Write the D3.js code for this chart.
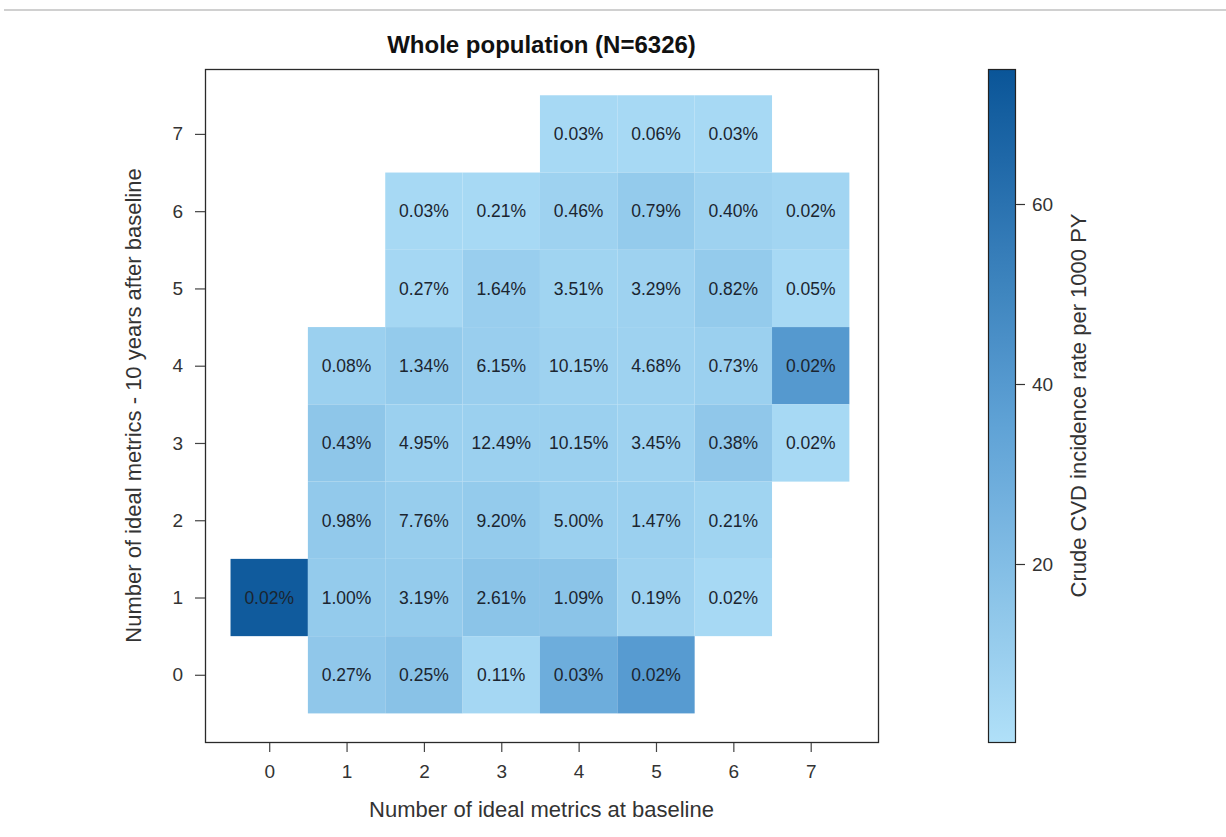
<!DOCTYPE html>
<html>
<head>
<meta charset="utf-8">
<script src="https://cdn.jsdelivr.net/npm/d3@7/dist/d3.min.js"></script>
<style>
  html, body { margin: 0; padding: 0; background: #fff; }
  svg { display: block; font-family: "Liberation Sans", Arial, sans-serif; }
</style>
</head>
<body>
<svg id="chart" width="1226" height="837"></svg>
<script>
// Number of ideal metrics at baseline (column) and 10 years later (row)
const baseline = [4, 5, 6,
                  2, 3, 4, 5, 6, 7,
                  2, 3, 4, 5, 6, 7,
                  1, 2, 3, 4, 5, 6, 7,
                  1, 2, 3, 4, 5, 6, 7,
                  1, 2, 3, 4, 5, 6,
                  0, 1, 2, 3, 4, 5, 6,
                  1, 2, 3, 4, 5];
const followUp = [7, 7, 7,
                  6, 6, 6, 6, 6, 6,
                  5, 5, 5, 5, 5, 5,
                  4, 4, 4, 4, 4, 4, 4,
                  3, 3, 3, 3, 3, 3, 3,
                  2, 2, 2, 2, 2, 2,
                  1, 1, 1, 1, 1, 1, 1,
                  0, 0, 0, 0, 0];
// Share of the population in each cell (%)
const share = [0.03, 0.06, 0.03,
               0.03, 0.21, 0.46, 0.79, 0.40, 0.02,
               0.27, 1.64, 3.51, 3.29, 0.82, 0.05,
               0.08, 1.34, 6.15, 10.15, 4.68, 0.73, 0.02,
               0.43, 4.95, 12.49, 10.15, 3.45, 0.38, 0.02,
               0.98, 7.76, 9.20, 5.00, 1.47, 0.21,
               0.02, 1.00, 3.19, 2.61, 1.09, 0.19, 0.02,
               0.27, 0.25, 0.11, 0.03, 0.02];
// Crude CVD incidence rate per 1000 PY in each cell
const rate = [4, 4, 4,
              4, 4, 8, 12, 8, 6,
              5, 10, 7, 8, 12, 4,
              9, 12, 10, 8, 8, 9, 40,
              15, 9, 9, 9, 8, 14, 4,
              13, 11, 12, 9, 9, 7,
              72, 12, 12, 16, 16, 8, 4,
              14, 17, 5, 29, 39];

const tickValues = [0, 1, 2, 3, 4, 5, 6, 7];
const colorTicks = [20, 40, 60];

const title = "Whole population (N=6326)";
const xTitle = "Number of ideal metrics at baseline";
const yTitle = "Number of ideal metrics - 10 years after baseline";
const colorTitle = "Crude CVD incidence rate per 1000 PY";

const cells = baseline.map((b, i) => ({ b, f: followUp[i], share: share[i], rate: rate[i] }));

const FONT = "'Liberation Sans', Arial, sans-serif";
const svg = d3.select("#chart");

// thin separator rule across the top of the page
svg.append("rect").attr("x", 4).attr("y", 9).attr("width", 1222).attr("height", 2)
  .attr("fill", "#d0d0d0");

const plot = { left: 205, right: 878, top: 69, bottom: 742 };

const x = d3.scaleLinear().domain([-0.83, 7.87]).range([plot.left, plot.right]);
const y = d3.scaleLinear().domain([-0.87, 7.84]).range([plot.bottom, plot.top]);

const color = d3.scaleLinear()
  .domain([0, 37, 75])
  .range(["#b0e0f8", "#5b9fd4", "#0a5598"])
  .interpolate(d3.interpolateRgb)
  .clamp(true);

// heat-map cells
svg.append("g").selectAll("rect").data(cells).join("rect")
  .attr("x", d => x(d.b - 0.5))
  .attr("y", d => y(d.f + 0.5))
  .attr("width", d => x(d.b + 0.5) - x(d.b - 0.5))
  .attr("height", d => y(d.f - 0.5) - y(d.f + 0.5))
  .attr("fill", d => color(d.rate));

// cell labels
svg.append("g").selectAll("text").data(cells).join("text")
  .attr("x", d => x(d.b))
  .attr("y", d => y(d.f))
  .attr("dy", "0.36em")
  .attr("text-anchor", "middle")
  .style("font-family", FONT)
  .style("font-size", "17.5px")
  .attr("fill", "#1b2530")
  .text(d => d.share.toFixed(2) + "%");

// frame
svg.append("rect")
  .attr("x", plot.left + 0.5).attr("y", plot.top + 0.5)
  .attr("width", plot.right - plot.left).attr("height", plot.bottom - plot.top)
  .attr("fill", "none").attr("stroke", "#2a2a2a").attr("stroke-width", 1.3);

// axes
const xAxis = svg.append("g")
  .attr("transform", `translate(0,${plot.bottom + 1})`)
  .call(d3.axisBottom(x).tickValues(tickValues).tickSize(9).tickPadding(13).tickFormat(d3.format("d")));
const yAxis = svg.append("g")
  .attr("transform", `translate(${plot.left},0)`)
  .call(d3.axisLeft(y).tickValues(tickValues).tickSize(10).tickPadding(12).tickFormat(d3.format("d")));

[xAxis, yAxis].forEach(g => {
  g.select(".domain").remove();
  g.selectAll(".tick line").attr("stroke", "#444").attr("stroke-width", 1.2);
  g.selectAll(".tick text")
    .style("font-family", FONT)
    .style("font-size", "19px").attr("fill", "#333");
});

// titles
svg.append("text")
  .attr("x", (plot.left + plot.right) / 2).attr("y", 53)
  .attr("text-anchor", "middle")
  .style("font-family", FONT).style("font-size", "24px").style("font-weight", "bold")
  .attr("fill", "#111").text(title);

svg.append("text")
  .attr("x", (plot.left + plot.right) / 2).attr("y", 817)
  .attr("text-anchor", "middle")
  .style("font-family", FONT).style("font-size", "22px").attr("fill", "#333")
  .text(xTitle);

svg.append("text")
  .attr("transform", `translate(141,${(plot.top + plot.bottom) / 2}) rotate(-90)`)
  .attr("text-anchor", "middle")
  .style("font-family", FONT).style("font-size", "22px").attr("fill", "#333")
  .text(yTitle);

// colour legend
const bar = { x: 988, width: 27, top: 69, bottom: 742 };
const cScale = d3.scaleLinear().domain([0, 75]).range([744, 69]);

const defs = svg.append("defs");
const grad = defs.append("linearGradient").attr("id", "rampGrad")
  .attr("x1", 0).attr("y1", 1).attr("x2", 0).attr("y2", 0);
d3.range(0, 76, 5).forEach(v => {
  grad.append("stop")
    .attr("offset", ((cScale(v) - 744) / (69 - 744)))
    .attr("stop-color", color(v));
});

svg.append("rect")
  .attr("x", bar.x + 0.5).attr("y", bar.top + 0.5)
  .attr("width", bar.width).attr("height", bar.bottom - bar.top)
  .attr("fill", "url(#rampGrad)").attr("stroke", "#222").attr("stroke-width", 1.2);

const cAxis = svg.append("g")
  .attr("transform", `translate(${bar.x + bar.width + 1},0)`)
  .call(d3.axisRight(cScale).tickValues(colorTicks).tickSize(9).tickPadding(7));
cAxis.select(".domain").remove();
cAxis.selectAll(".tick line").attr("stroke", "#333").attr("stroke-width", 1.2);
cAxis.selectAll(".tick text")
  .style("font-family", FONT)
  .style("font-size", "19px").attr("fill", "#333");

svg.append("text")
  .attr("transform", `translate(1086,${(bar.top + bar.bottom) / 2}) rotate(-90)`)
  .attr("text-anchor", "middle")
  .style("font-family", FONT).style("font-size", "22px").attr("fill", "#333")
  .text(colorTitle);
</script>
</body>
</html>
